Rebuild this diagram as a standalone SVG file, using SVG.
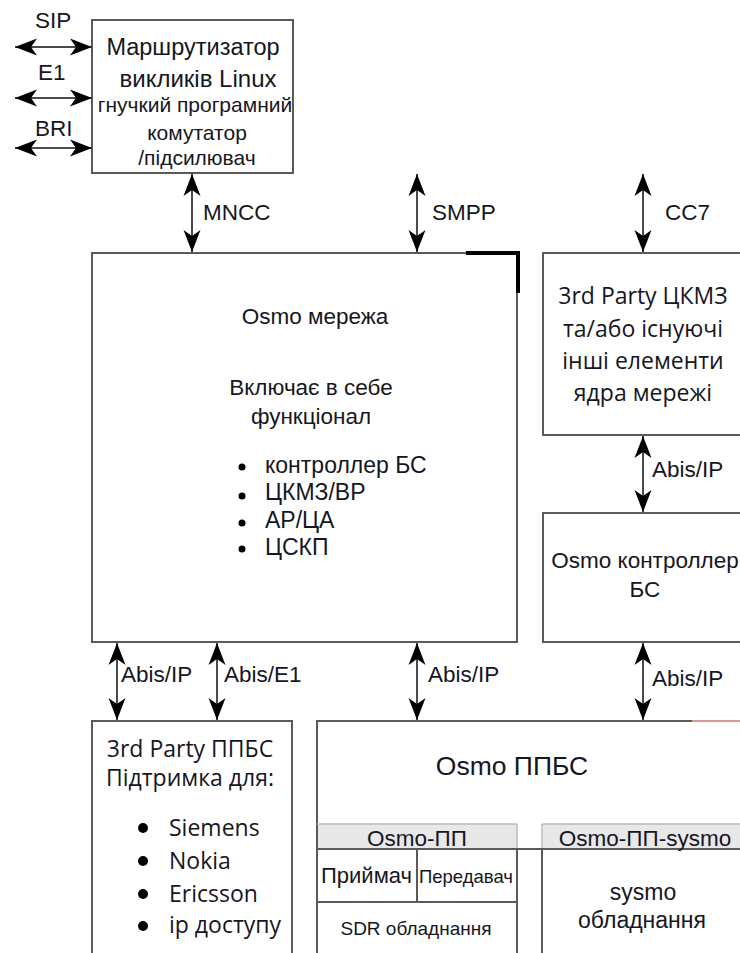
<svg xmlns="http://www.w3.org/2000/svg" width="740" height="953" viewBox="0 0 740 953">
<style>
.box{fill:#fff;stroke:#5a5a5a;stroke-width:2}
.ln{fill:none;stroke:#5a5a5a;stroke-width:2}
.hdr{fill:#e8e8e8;stroke:none}
.con{fill:none;stroke:#4a4a4a;stroke-width:2;marker-start:url(#ah);marker-end:url(#ah)}
text{fill:#161622}
.a{font-family:"Liberation Sans",Arial,sans-serif}
.o{font-family:"Open Sans","Noto Sans",sans-serif}
.c{text-anchor:middle}
.lb{font-size:22.5px}
</style>
<defs>
<marker id="ah" viewBox="-23 -10 25 20" refX="0" refY="0" markerWidth="25" markerHeight="20" markerUnits="userSpaceOnUse" orient="auto-start-reverse">
<path d="M0,0 L-22,-8.5 L-16,0 L-22,8.5 Z" fill="#000"/>
</marker>
</defs>
<rect width="740" height="953" fill="#fff"/>

<g id="router">
<rect class="box" x="92" y="20" width="201" height="153"/>
<text class="a c" x="193" y="55" font-size="23.5">Маршрутизатор</text>
<text class="a c" x="198" y="87" font-size="24">викликів Linux</text>
<text class="a c" x="195" y="112" font-size="21">гнучкий програмний</text>
<text class="a c" x="197" y="140" font-size="21">комутатор</text>
<text class="a c" x="197" y="165" font-size="21">/підсилювач</text>
</g>

<g id="osmo-net">
<rect class="box" x="92" y="253" width="425" height="389"/>
<polyline points="466,253 518,253 518,293" fill="none" stroke="#000" stroke-width="4"/>
<text class="a c" x="315" y="324" font-size="22.5">Osmo мережа</text>
<text class="a c" x="311" y="395" font-size="22.5">Включає в себе</text>
<text class="a c" x="311" y="424" font-size="22.5">функціонал</text>
<circle cx="242" cy="467" r="3.5" fill="#000"/>
<circle cx="242" cy="496" r="3.5" fill="#000"/>
<circle cx="242" cy="523" r="3.5" fill="#000"/>
<circle cx="242" cy="549" r="3.5" fill="#000"/>
<text class="a" x="265" y="473" font-size="23">контроллер БС</text>
<text class="a" x="265" y="500" font-size="23">ЦКМЗ/ВР</text>
<text class="a" x="265" y="528" font-size="23">АР/ЦА</text>
<text class="a" x="265" y="555" font-size="23">ЦСКП</text>
</g>

<g id="msc">
<rect class="box" x="543" y="253" width="220" height="182"/>
<text class="o c" x="643" y="304" font-size="23">3rd Party ЦКМЗ</text>
<text class="o c" x="643" y="337" font-size="23">та/або існуючі</text>
<text class="o c" x="643" y="369" font-size="23">інші елементи</text>
<text class="o c" x="643" y="401" font-size="23">ядра мережі</text>
</g>

<g id="bsc">
<rect class="box" x="543" y="513" width="220" height="129"/>
<text class="a c" x="645" y="568" font-size="22.5">Osmo контроллер</text>
<text class="a c" x="645" y="597" font-size="22.5">БС</text>
</g>

<g id="bts3rd">
<rect class="box" x="92" y="721" width="200" height="250"/>
<text class="o c" x="190" y="757" font-size="23">3rd Party ППБС</text>
<text class="o c" x="190" y="786" font-size="23">Підтримка для:</text>
<circle cx="143" cy="828" r="5" fill="#000"/>
<circle cx="143" cy="861" r="5" fill="#000"/>
<circle cx="143" cy="894" r="5" fill="#000"/>
<circle cx="143" cy="926" r="5" fill="#000"/>
<text class="o" x="169" y="836" font-size="23">Siemens</text>
<text class="o" x="169" y="869" font-size="23">Nokia</text>
<text class="o" x="169" y="902" font-size="23">Ericsson</text>
<text class="o" x="169" y="933" font-size="23">ip доступу</text>
</g>

<g id="osmo-bts">
<rect class="box" x="317" y="721" width="450" height="250"/>
<line x1="692" y1="721" x2="740" y2="721" stroke="#d99" stroke-width="2"/>
<text class="a c" x="512" y="775" font-size="26.5">Osmo ППБС</text>
<rect class="hdr" x="318" y="824" width="199" height="25"/>
<rect class="hdr" x="543" y="824" width="197" height="25"/>
<line x1="317" y1="824" x2="517" y2="824" stroke="#bbb" stroke-width="1.5"/>
<line x1="542" y1="824" x2="740" y2="824" stroke="#bbb" stroke-width="1.5"/>
<line x1="517" y1="824" x2="517" y2="849" stroke="#bbb" stroke-width="1.5"/>
<line x1="542" y1="824" x2="542" y2="849" stroke="#bbb" stroke-width="1.5"/>
<line class="ln" x1="317" y1="849" x2="740" y2="849"/>
<line class="ln" x1="517" y1="849" x2="517" y2="953"/>
<line class="ln" x1="542" y1="849" x2="542" y2="953"/>
<line class="ln" x1="417" y1="849" x2="417" y2="902"/>
<line class="ln" x1="317" y1="902" x2="517" y2="902"/>
<text class="a c" x="417" y="846" font-size="22.5">Osmo-ПП</text>
<text class="a c" x="645" y="846" font-size="22.5">Osmo-ПП-sysmo</text>
<text class="a" x="321" y="883" font-size="22">Приймач</text>
<text class="a" x="419" y="883" font-size="18.5">Передавач</text>
<text class="a c" x="416" y="935" font-size="19">SDR обладнання</text>
<text class="a c" x="643" y="900" font-size="23">sysmo</text>
<text class="a c" x="642" y="928" font-size="23">обладнання</text>
</g>

<g id="connectors">
<line class="con" x1="15" y1="47" x2="92" y2="47"/>
<line class="con" x1="15" y1="98" x2="92" y2="98"/>
<line class="con" x1="15" y1="148" x2="92" y2="148"/>
<line class="con" x1="192" y1="174" x2="192" y2="252"/>
<line class="con" x1="417" y1="174" x2="417" y2="252"/>
<line class="con" x1="643" y1="174" x2="643" y2="252"/>
<line class="con" x1="643" y1="436" x2="643" y2="512"/>
<line class="con" x1="643" y1="643" x2="643" y2="720"/>
<line class="con" x1="117" y1="643" x2="117" y2="720"/>
<line class="con" x1="217" y1="643" x2="217" y2="720"/>
<line class="con" x1="417" y1="643" x2="417" y2="720"/>
<text class="a lb" x="35" y="28">SIP</text>
<text class="a lb" x="38" y="80">E1</text>
<text class="a lb" x="35" y="136">BRI</text>
<text class="a lb" x="203" y="220">MNCC</text>
<text class="a lb" x="432" y="220">SMPP</text>
<text class="a lb" x="665" y="220">CC7</text>
<text class="a lb" x="652" y="477">Abis/IP</text>
<text class="a lb" x="652" y="686">Abis/IP</text>
<text class="a lb" x="121" y="682">Abis/IP</text>
<text class="a lb" x="224" y="682">Abis/E1</text>
<text class="a lb" x="428" y="682">Abis/IP</text>
</g>
</svg>
